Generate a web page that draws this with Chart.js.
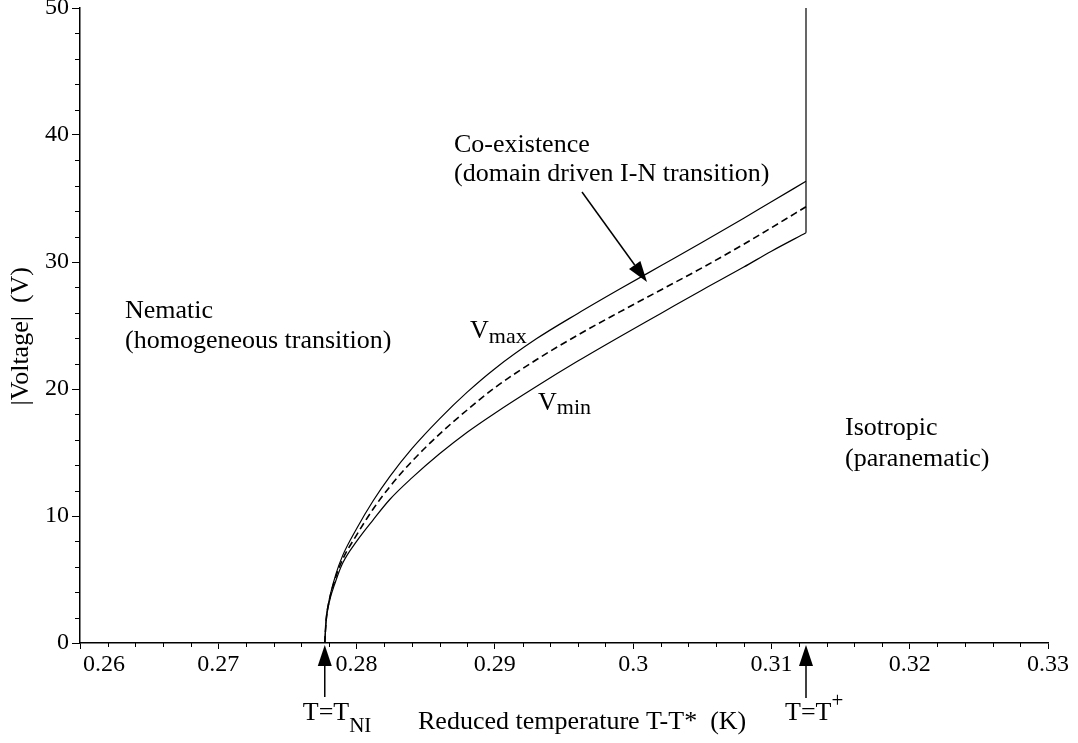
<!DOCTYPE html>
<html>
<head>
<title>Voltage vs reduced temperature</title>
<script src="https://cdn.jsdelivr.net/npm/chart.js"></script>
<style>
  body { margin: 0; background: #fff; }
</style>
</head>
<body>
<canvas id="phaseChart" width="1078" height="743"></canvas>
<script>
// reduced temperature T-T* (K), shared by the three curves
const reducedTemp = [0.2777, 0.2778, 0.2780, 0.2785, 0.2790, 0.2800, 0.2812, 0.2824, 0.2840, 0.2860,
                     0.2880, 0.2900, 0.2930, 0.2960, 0.2990, 0.3020, 0.3050, 0.3080, 0.3100, 0.3125];
// |Voltage| (V)
const vMax = [0, 1.9, 3.3, 5.4, 6.9, 9.0, 11.2, 13.1, 15.3, 17.65,
              19.75, 21.6, 23.95, 25.95, 27.85, 29.7, 31.55, 33.45, 34.75, 36.35];
const vMid = [0, 1.8, 3.2, 5.2, 6.6, 8.5, 10.55, 12.3, 14.3, 16.45,
              18.35, 20.1, 22.3, 24.25, 26.05, 27.8, 29.55, 31.4, 32.7, 34.35];
const vMin = [0, 1.7, 3.1, 4.9, 6.3, 8.0, 9.7, 11.3, 13.0, 14.9,
              16.6, 18.1, 20.2, 22.2, 24.1, 25.95, 27.8, 29.6, 30.85, 32.3];
// vertical boundary at T = T+
const boundaryTemp = [0.3125, 0.3125];
const boundaryVolt = [32.3, 50];

const tempNI = 0.2777;
const tempPlus = 0.3125;

const serif = '"Liberation Serif", "Times New Roman", serif';

function pts(xs, ys) {
    return xs.map((t, i) => ({ x: t, y: ys[i] }));
}

function txt(ctx, s, x, y, size) {
    ctx.font = size + 'px ' + serif;
    ctx.fillText(s, x, y);
    return ctx.measureText(s).width;
}

function arrow(ctx, x1, y1, x2, y2) {
    // line from (x1,y1), filled head at (x2,y2)
    const ang = Math.atan2(y2 - y1, x2 - x1);
    const len = 21, half = 7;
    const bx = x2 - len * Math.cos(ang), by = y2 - len * Math.sin(ang);
    ctx.beginPath();
    ctx.moveTo(x1, y1);
    ctx.lineTo(bx, by);
    ctx.stroke();
    ctx.beginPath();
    ctx.moveTo(x2, y2);
    ctx.lineTo(bx + half * Math.sin(ang), by - half * Math.cos(ang));
    ctx.lineTo(bx - half * Math.sin(ang), by + half * Math.cos(ang));
    ctx.closePath();
    ctx.fill();
}

const decorPlugin = {
    id: 'decor',
    afterDraw(chart) {
        const { ctx, chartArea: a, scales: { x, y } } = chart;
        ctx.save();
        ctx.strokeStyle = '#000';
        ctx.fillStyle = '#000';
        ctx.lineWidth = 1;

        // minor ticks
        ctx.beginPath();
        for (let i = 1; i < 35; i++) {
            if (i % 5 === 0) continue;
            const px = Math.round(x.getPixelForValue(0.26 + i * 0.002)) + 0.5;
            ctx.moveTo(px, a.bottom);
            ctx.lineTo(px, a.bottom + 4);
        }
        for (let i = 1; i < 25; i++) {
            if (i % 5 === 0) continue;
            const py = Math.round(y.getPixelForValue(i * 2)) + 0.5;
            ctx.moveTo(a.left, py);
            ctx.lineTo(a.left - 5, py);
        }
        ctx.stroke();

        ctx.textAlign = 'left';
        ctx.textBaseline = 'alphabetic';

        // region labels
        txt(ctx, 'Nematic', 125, 318, 26);
        txt(ctx, '(homogeneous transition)', 125, 348, 26);
        txt(ctx, 'Co-existence', 454, 152, 26);
        txt(ctx, '(domain driven I-N transition)', 454, 181, 26);
        txt(ctx, 'Isotropic', 845, 435, 26);
        txt(ctx, '(paranematic)', 845, 466, 26);

        let w = txt(ctx, 'V', 470, 338, 26);
        txt(ctx, 'max', 470 + w, 343, 22);
        w = txt(ctx, 'V', 538, 410, 26);
        txt(ctx, 'min', 538 + w, 414, 22);

        // arrow to the co-existence band
        ctx.lineWidth = 1.5;
        arrow(ctx, 582, 192, 647, 282);

        // transition temperature markers below the axis
        const xNI = x.getPixelForValue(tempNI);
        const xPlus = x.getPixelForValue(tempPlus);
        arrow(ctx, xNI, a.bottom + 54, xNI, a.bottom + 2);
        arrow(ctx, xPlus, a.bottom + 55, xPlus, a.bottom + 2);

        w = txt(ctx, 'T=T', xNI - 22, 720, 26);
        txt(ctx, 'NI', xNI - 22 + w, 732, 21);
        w = txt(ctx, 'T=T', xPlus - 21, 720, 26);
        txt(ctx, '+', xPlus - 21 + w, 707, 21);

        // axis titles
        txt(ctx, 'Reduced temperature T-T*  (K)', 418, 729, 26);
        ctx.font = '26px ' + serif;
        const yt = '|Voltage|  (V)';
        const yw = ctx.measureText(yt).width;
        ctx.translate(28, 267 + yw);
        ctx.rotate(-Math.PI / 2);
        ctx.fillText(yt, 0, 0);
        ctx.restore();
    }
};

const lineStyle = {
    showLine: true,
    pointRadius: 0,
    borderColor: '#000',
    borderWidth: 1.2,
    cubicInterpolationMode: 'monotone',
    fill: false
};

new Chart(document.getElementById('phaseChart'), {
    type: 'scatter',
    data: {
        datasets: [
            Object.assign({ label: 'Vmax', data: pts(reducedTemp, vMax) }, lineStyle),
            Object.assign({}, lineStyle, { label: 'V', data: pts(reducedTemp, vMid), borderDash: [7, 4], borderWidth: 1.6 }),
            Object.assign({ label: 'Vmin', data: pts(reducedTemp, vMin) }, lineStyle),
            Object.assign({ label: 'T+', data: pts(boundaryTemp, boundaryVolt) }, lineStyle)
        ]
    },
    options: {
        responsive: false,
        animation: false,
        layout: { padding: { top: 8, right: 30, left: 0, bottom: 0 } },
        plugins: { legend: { display: false }, tooltip: { enabled: false } },
        scales: {
            x: {
                type: 'linear',
                min: 0.26,
                max: 0.33,
                afterFit(s) { s.height = 100; s.paddingLeft = 0; s.paddingRight = 0; },
                ticks: {
                    stepSize: 0.01,
                    autoSkip: false,
                    maxRotation: 0,
                    padding: 1,
                    color: '#000',
                    font: { family: serif, size: 24 },
                    callback: (v) => {
                        const s = String(Number(v.toFixed(2)));
                        return Math.abs(v - 0.26) < 1e-9 ? '        ' + s : s;
                    }
                },
                grid: { drawOnChartArea: false, tickLength: 6, tickColor: '#000', tickWidth: 1 },
                border: { color: '#000', width: 1.5 }
            },
            y: {
                min: 0,
                max: 50,
                afterFit(s) { s.width = 80; s.paddingTop = 0; s.paddingBottom = 0; },
                ticks: {
                    stepSize: 10,
                    padding: 3,
                    color: '#000',
                    font: { family: serif, size: 24 }
                },
                grid: { drawOnChartArea: false, tickLength: 8, tickColor: '#000', tickWidth: 1 },
                border: { color: '#000', width: 1.5 }
            }
        }
    },
    plugins: [decorPlugin]
});
</script>
</body>
</html>
